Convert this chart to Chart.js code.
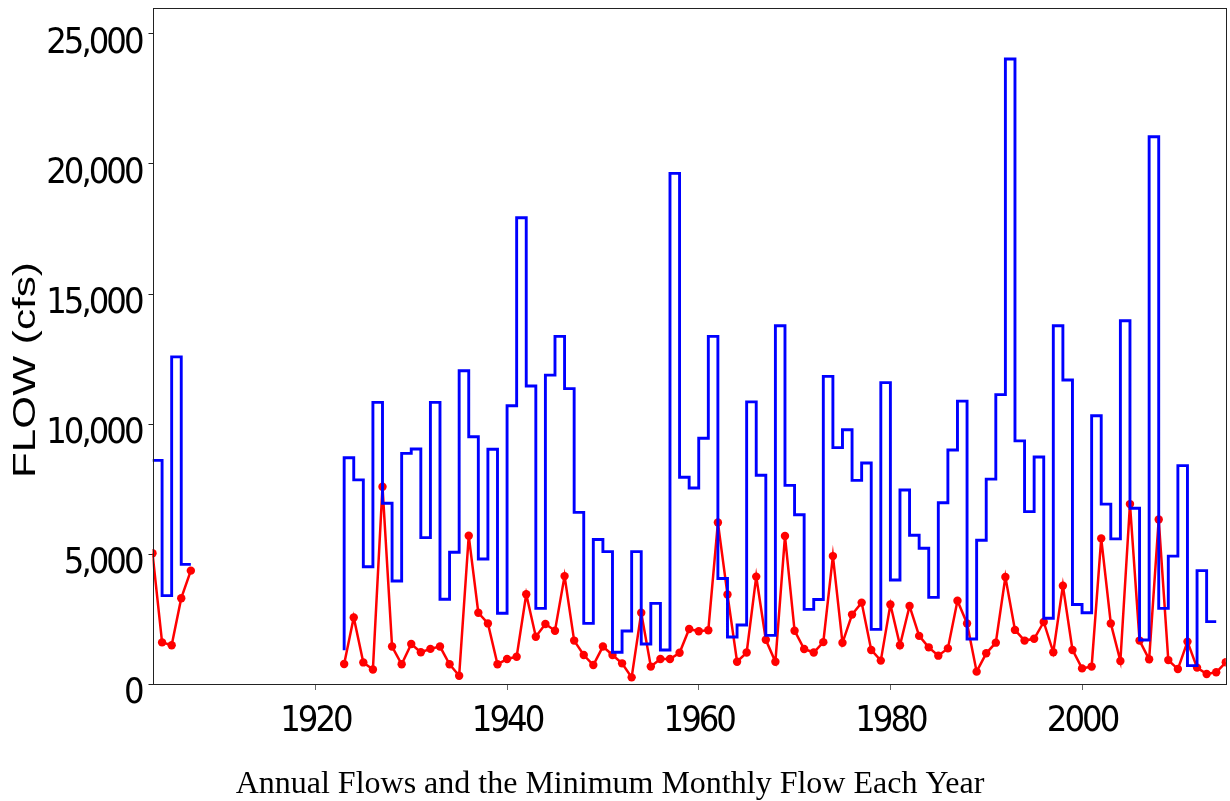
<!DOCTYPE html>
<html>
<head>
<meta charset="utf-8">
<script src="https://cdn.jsdelivr.net/npm/chart.js@4.4.1/dist/chart.umd.min.js"></script>
<style>
  html, body { margin: 0; padding: 0; background: #fff; }
  #wrap { width: 1230px; height: 801px; position: relative; }
</style>
</head>
<body>
<div id="wrap"><canvas id="flow"></canvas></div>
<script>
// years 1903..2015, gap 1908-1922 (no record)
const firstYear = 1903;

// annual flow, cfs — value for year Y spans Y-1 .. Y
const annualFlow = [
  8600, 8600, 3400, 12580, 4600,
  null, null, null, null, null, null, null, null, null, null, null, null, null, null, null,
  1300, 8700, 7850, 4510, 10830, 6950, 3960, 8870, 9040, 5630,
  10830, 3260, 5070, 12050, 9510, 4810, 9030, 2720, 10700, 17935,
  11460, 2910, 11880, 13370, 11360, 6600, 2330, 5560, 5090, 1220,
  2040, 5090, 1540, 3100, 1310, 19640, 7950, 7540, 9450, 13370,
  4060, 1810, 2270, 10850, 8030, 1870, 13780, 7640, 6510, 2870,
  3250, 11830, 9090, 9780, 7830, 8500, 2100, 11590, 4000, 7460,
  5720, 5220, 3330, 6970, 9000, 10880, 1730, 5530, 7880, 11130,
  24040, 9350, 6630, 8730, 2530, 13780, 11690, 3060, 2740, 10320,
  6920, 5580, 13970, 6760, 1690, 21050, 2910, 4920, 8400, 705,
  4360, 2400, null
];

// minimum monthly flow each year, cfs
const minMonthly = [
  5030, 1600, 1490, 3300, 4360,
  null, null, null, null, null, null, null, null, null, null, null, null, null, null, null,
  770, 2560, 830, 560, 7590, 1440, 760, 1540, 1220, 1350,
  1440, 760, 320, 5700, 2740, 2330, 760, 960, 1050, 3450,
  1820, 2310, 2050, 4150, 1670, 1115, 730, 1440, 1115, 795,
  255, 2740, 670, 960, 960, 1200, 2115, 2030, 2070, 6210,
  3440, 855, 1210, 4130, 1700, 855, 5690, 2050, 1345, 1210,
  1610, 4920, 1585, 2670, 3130, 1310, 900, 3060, 1490, 3000,
  1850, 1410, 1090, 1370, 3200, 2330, 475, 1180, 1590, 4115,
  2080, 1670, 1740, 2385, 1220, 3780, 1310, 600, 670, 5600,
  2330, 885, 6920, 1670, 950, 6330, 920, 575, 1630, 630,
  385, 450, 835
];

const yearTicks = [1920, 1940, 1960, 1980, 2000];
const flowTicks = [0, 5000, 10000, 15000, 20000, 25000];
const yTitle = 'FLOW (cfs)';
const caption = 'Annual Flows and the Minimum Monthly Flow Each Year';

const years = annualFlow.map((_, i) => firstYear + i);
const pts = arr => years.map((yr, i) => ({ x: yr, y: arr[i] }));

const tickFont = { family: '"DejaVu Sans Condensed", "DejaVu Sans", sans-serif', size: 36 };

// box round the plot area
const frame = {
  id: 'frame',
  afterDatasetsDraw(chart) {
    const a = chart.chartArea, c = chart.ctx;
    c.save();
    c.strokeStyle = '#222';
    c.lineWidth = 1;
    c.strokeRect(Math.round(a.left) + 0.5, Math.round(a.top) + 0.5, Math.round(a.right - a.left), Math.round(a.bottom - a.top));
    c.restore();
  }
};

// tight tick numbers (narrow face look), then the two titles at normal spacing
const texts = {
  id: 'texts',
  beforeDraw(chart) { chart.ctx.letterSpacing = '-3px'; },
  afterDraw(chart) {
    const c = chart.ctx, a = chart.chartArea;
    c.save();
    c.letterSpacing = '0px';
    c.fillStyle = '#000';
    c.textAlign = 'center';
    c.textBaseline = 'alphabetic';
    c.font = '32px "Liberation Serif", "Times New Roman", serif';
    c.fillText(caption, chart.width / 2 - 5, chart.height - 8);
    c.translate(35, (a.top + a.bottom) / 2 + 24);
    c.rotate(-Math.PI / 2);
    c.scale(1.32, 1);
    c.font = '32px "Liberation Sans", Arial, sans-serif';
    c.fillText(yTitle, 0, 0);
    c.restore();
  }
};

new Chart(document.getElementById('flow'), {
  type: 'line',
  data: {
    datasets: [
      { label: 'Annual flow', data: pts(annualFlow), stepped: 'after', borderColor: '#0000ff', borderWidth: 2.9, pointRadius: 0, spanGaps: false, fill: false },
      { label: 'Minimum monthly flow', data: pts(minMonthly), borderColor: '#ff0000', backgroundColor: '#ff0000', borderWidth: 2.5, pointRadius: 4.2, pointBorderWidth: 0, pointBackgroundColor: '#ff0000', spanGaps: false, fill: false, tension: 0 }
    ]
  },
  plugins: [frame, texts],
  options: {
    responsive: true,
    maintainAspectRatio: false,
    animation: false,
    events: [],
    layout: { padding: { top: 8, right: 3, left: 0, bottom: 0 } },
    plugins: {
      legend: { display: false },
      tooltip: { enabled: false },
      title: { display: false }
    },
    scales: {
      x: {
        type: 'linear', min: 1903, max: 2015,
        afterBuildTicks: s => { s.ticks = yearTicks.map(v => ({ value: v })); },
        afterFit: s => { s.height = 117; s.paddingLeft = 0; s.paddingRight = 0; },
        border: { display: false },
        grid: { drawOnChartArea: false, drawTicks: true, tickLength: 6, color: '#666' },
        ticks: { color: '#000', font: tickFont, padding: 10, maxRotation: 0, callback: v => String(v) }
      },
      y: {
        min: 0, max: 26000,
        afterBuildTicks: s => { s.ticks = flowTicks.map(v => ({ value: v })); },
        afterFit: s => { s.width = 152.5; s.paddingTop = 0; s.paddingBottom = 0; },
        border: { display: false },
        grid: { drawOnChartArea: false, drawTicks: true, tickLength: 4, color: '#222' },
        ticks: { color: '#000', font: tickFont, padding: 7, labelOffset: 10, callback: v => v.toLocaleString('en-US') }
      }
    }
  }
});
</script>
</body>
</html>
